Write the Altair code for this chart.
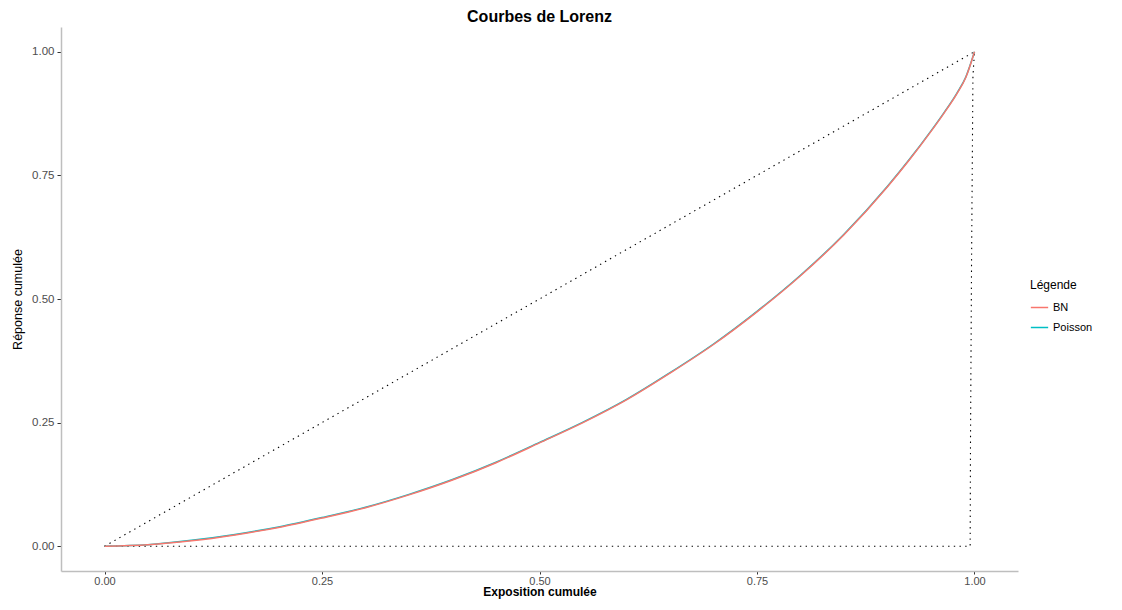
import altair as alt
import pandas as pd

# Lorenz curves (cumulative exposure vs cumulative response)
expo = [0.00, 0.05, 0.10, 0.15, 0.20, 0.25, 0.30, 0.35, 0.40, 0.45, 0.50,
        0.55, 0.60, 0.65, 0.70, 0.75, 0.80, 0.85, 0.90, 0.925, 0.95, 0.965,
        0.98, 0.99, 1.00]
bn = [0.000, 0.003, 0.011, 0.023, 0.038, 0.057, 0.078, 0.104, 0.134, 0.169, 0.209,
      0.250, 0.296, 0.350, 0.408, 0.474, 0.547, 0.630, 0.727, 0.781, 0.839, 0.876,
      0.916, 0.948, 1.000]
poisson = [0.000, 0.003, 0.012, 0.024, 0.039, 0.058, 0.079, 0.105, 0.135, 0.170, 0.210,
           0.251, 0.297, 0.351, 0.409, 0.475, 0.548, 0.631, 0.728, 0.782, 0.840, 0.877,
           0.917, 0.949, 1.000]

# reference lines (dotted)
diag_x = [0.0, 1.0]
diag_y = [0.0, 1.0]
obs_x = [0.0, 0.9950, 0.9954, 0.9966, 0.9982, 1.0]
obs_y = [0.0, 0.0, 0.21, 0.57, 0.95, 1.0]

title = "Courbes de Lorenz"
x_title = "Exposition cumulée"
y_title = "Réponse cumulée"
legend_title = "Légende"
series = ["BN", "Poisson"]
colors = ["#F8766D", "#00BFC4"]
ticks = [0.0, 0.25, 0.5, 0.75, 1.0]

FONT = "Liberation Sans"

df_bn = pd.DataFrame({"x": expo, "y": bn, "s": ["BN"] * len(expo)})
df_po = pd.DataFrame({"x": expo, "y": poisson, "s": ["Poisson"] * len(expo)})
df_ref = pd.DataFrame({
    "x": diag_x + obs_x,
    "y": diag_y + obs_y,
    "g": ["diag"] * len(diag_x) + ["obs"] * len(obs_x),
})

xscale = alt.Scale(domain=[-0.05, 1.05], nice=False, zero=False)
yscale = alt.Scale(domain=[-0.05, 1.05], nice=False, zero=False)

xaxis = alt.Axis(values=ticks, format=".2f", title=x_title, grid=False,
                 domainColor="#BEBEBE", domainWidth=1.5, tickColor="#333333",
                 tickSize=3, labelFontSize=11, labelColor="#4D4D4D",
                 labelFont=FONT, labelPadding=1, titleFont=FONT,
                 titleFontSize=12, titleFontWeight="bold", titleColor="#000000",
                 titlePadding=0)
yaxis = alt.Axis(values=ticks, format=".2f", title=y_title, grid=False,
                 domainColor="#BEBEBE", domainWidth=1.5, tickColor="#333333",
                 tickSize=4, labelFontSize=11.5, labelColor="#4D4D4D",
                 labelFont=FONT, labelPadding=3, titleFont=FONT,
                 titleFontSize=12.5, titleFontWeight="normal", titleColor="#000000",
                 titlePadding=7)

color = alt.Color("s:N", scale=alt.Scale(domain=series, range=colors),
                  legend=alt.Legend(title=legend_title, orient="none",
                                    legendX=969, legendY=253,
                                    symbolType="stroke", symbolStrokeWidth=1.5,
                                    symbolSize=300, titleFont=FONT,
                                    titleFontSize=12, titleFontWeight="normal",
                                    labelFont=FONT, labelFontSize=11,
                                    labelColor="#000000", titleColor="#000000",
                                    rowPadding=5, titlePadding=6))

ref = alt.Chart(df_ref).mark_line(color="black", strokeWidth=1.1,
                                  strokeDash=[1.4, 4.3]).encode(
    x=alt.X("x:Q", scale=xscale, axis=xaxis),
    y=alt.Y("y:Q", scale=yscale, axis=yaxis),
    detail="g:N",
)

po = alt.Chart(df_po).mark_line(strokeWidth=1.5, interpolate="monotone").encode(
    x=alt.X("x:Q", scale=xscale, axis=xaxis),
    y=alt.Y("y:Q", scale=yscale, axis=yaxis),
    color=color,
)
bnl = alt.Chart(df_bn).mark_line(strokeWidth=1.5, interpolate="monotone").encode(
    x=alt.X("x:Q", scale=xscale, axis=xaxis),
    y=alt.Y("y:Q", scale=yscale, axis=yaxis),
    color=color,
)

chart = alt.layer(ref, po, bnl).properties(
    width=957, height=544,
    title=alt.TitleParams(title, font=FONT, fontSize=16, fontWeight="bold",
                          anchor="middle", offset=2, color="#000000"),
    autosize=alt.AutoSizeParams(type="none"),
    padding={"left": 53, "top": 19, "right": 90, "bottom": 31},
    background="white",
).configure_view(strokeWidth=0, stroke="transparent")

chart.save("out.html", embed_options={"renderer": "svg", "actions": False})
